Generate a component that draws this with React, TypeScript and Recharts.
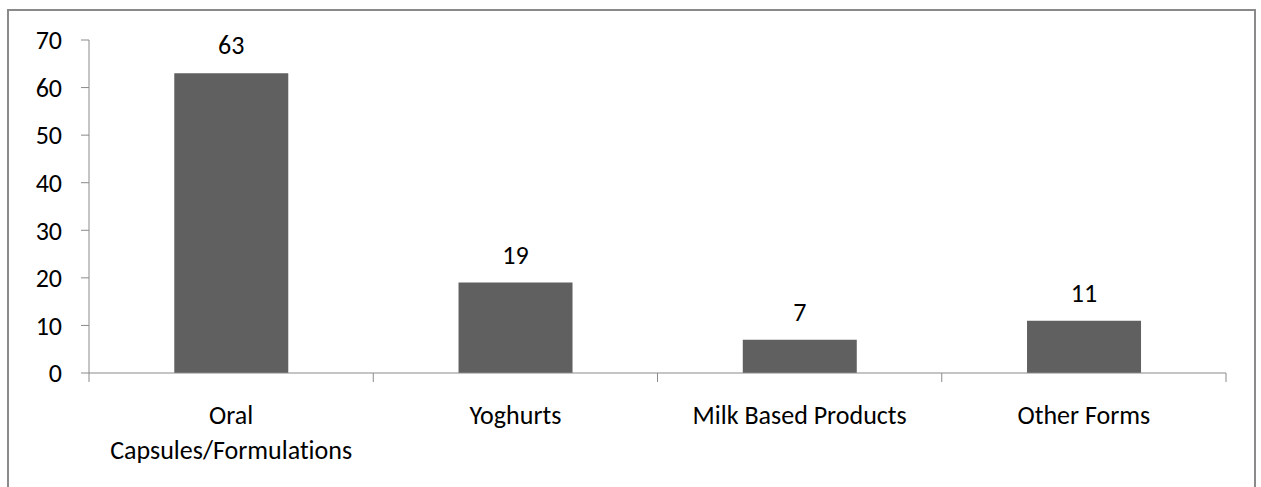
import React from 'react';
import { BarChart, Bar, XAxis, YAxis, LabelList } from 'recharts';

// Category labels use "\n" where the axis label wraps onto a second line
const categories = ['Oral\nCapsules/Formulations', 'Yoghurts', 'Milk Based Products', 'Other Forms'];
const shares = [63, 19, 7, 11];
const yTicks = [0, 10, 20, 30, 40, 50, 60, 70];

const data = categories.map((name, i) => ({ name, value: shares[i] }));

const WIDTH = 1261;
const HEIGHT = 487;
const Y_AXIS_WIDTH = 89;
const RIGHT_MARGIN = 35;
const HALF_BAND = (WIDTH - Y_AXIS_WIDTH - RIGHT_MARGIN) / categories.length / 2;

const FONT = 'Carlito, Lato, "Open Sans", sans-serif';
const FONT_SIZE = 26;
const AXIS_GRAY = '#8a8a8a';

// Category label plus tick marks on the band edges (Excel style)
function CategoryTick(props: any) {
  const { x, y, payload, index } = props;
  const lines = String(payload.value).split('\n');
  const isLast = index === categories.length - 1;
  return (
    <g>
      <line x1={x - HALF_BAND} x2={x - HALF_BAND} y1={y} y2={y + 9} stroke={AXIS_GRAY} />
      {isLast && <line x1={x + HALF_BAND} x2={x + HALF_BAND} y1={y} y2={y + 9} stroke={AXIS_GRAY} />}
      <text
        x={x}
        y={y}
        textAnchor="middle"
        fontFamily={FONT}
        fontSize={FONT_SIZE}
        fill="#000"
        style={{ fontVariantLigatures: 'none' }}
      >
        {lines.map((line, i) => (
          <tspan key={i} x={x} dy={i === 0 ? 51 : 35}>
            {line}
          </tspan>
        ))}
      </text>
    </g>
  );
}

export default function App() {
  return (
    <div
      style={{
        position: 'absolute',
        left: 0,
        top: 0,
        width: WIDTH,
        height: HEIGHT,
        overflow: 'hidden',
        background: '#fff',
      }}
    >
      <div
        style={{
          position: 'absolute',
          left: 7,
          top: 9,
          width: 1245,
          height: 600,
          border: `2px solid ${AXIS_GRAY}`,
        }}
      />
      <div style={{ position: 'absolute', left: 0, top: 0 }}>
        <BarChart
          width={WIDTH}
          height={HEIGHT}
          data={data}
          margin={{ top: 40, right: RIGHT_MARGIN, bottom: 0, left: 0 }}
          barCategoryGap="30%"
        >
          <XAxis
            dataKey="name"
            interval={0}
            stroke={AXIS_GRAY}
            tickLine={false}
            tickSize={0}
            tickMargin={0}
            tick={<CategoryTick />}
            height={114}
          />
          <YAxis
            domain={[0, 70]}
            ticks={yTicks}
            width={Y_AXIS_WIDTH}
            stroke={AXIS_GRAY}
            tickSize={8}
            tickMargin={19}
            tick={{ fill: '#000', fontSize: FONT_SIZE, fontFamily: FONT }}
            allowDataOverflow
          />
          <Bar dataKey="value" fill="#606060" isAnimationActive={false}>
            <LabelList
              dataKey="value"
              position="top"
              offset={19}
              fill="#000"
              fontSize={FONT_SIZE}
              fontFamily={FONT}
            />
          </Bar>
        </BarChart>
      </div>
    </div>
  );
}
